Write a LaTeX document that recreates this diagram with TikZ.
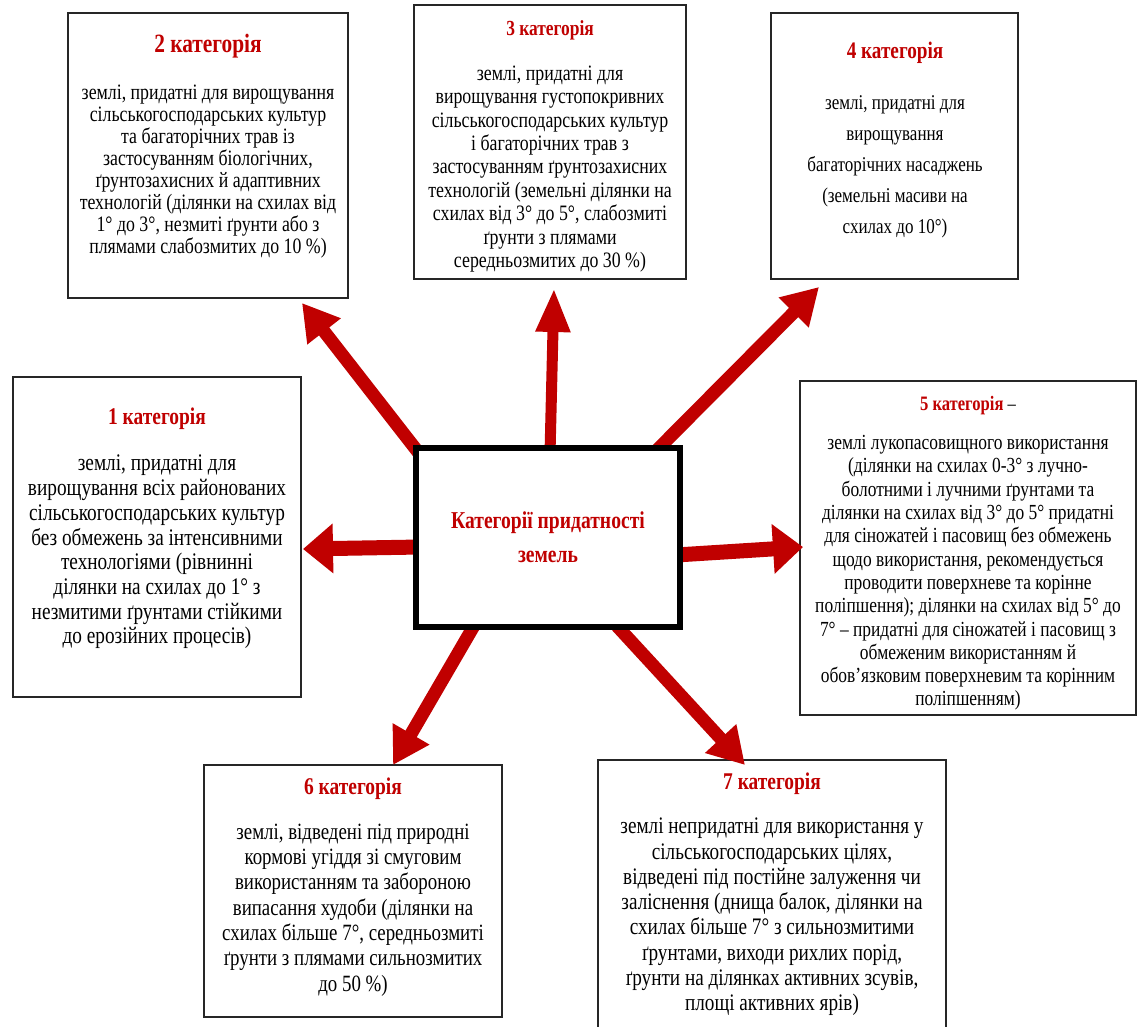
\documentclass[tikz,border=0pt]{standalone}
\usepackage{fontspec}
\setmainfont{Liberation Serif}[FakeStretch=0.81]
\usetikzlibrary{arrows.meta}
\definecolor{catred}{HTML}{C00000}
\begin{document}
\begin{tikzpicture}[x=1pt,y=-1pt,
  box/.style={draw=black!85,line width=1.6pt,fill=white,inner sep=0pt},
  ttl/.style={text=catred,font=\bfseries\fontsize{24}{28}\selectfont,inner sep=0pt},
  body/.style={align=center,inner sep=0pt},
  arr/.style={draw=catred,line width=13pt,-{Triangle[length=36pt,width=40pt]}},
  harr/.style={draw=catred,line width=15pt,-{Triangle[length=30pt,width=48pt]}},
  varr/.style={draw=catred,line width=11pt,-{Triangle[length=44pt,width=32pt]}}
]
\clip (0,0) rectangle (1137,1026);
\fill[white] (0,0) rectangle (1137,1026);

% boxes
\node[box,minimum width=280pt,minimum height=285pt] (b2) at (208,155.5) {};
\node[box,minimum width=272pt,minimum height=274pt] (b3) at (550,142) {};
\node[box,minimum width=247pt,minimum height=266pt] (b4) at (894.5,146) {};
\node[box,minimum width=288pt,minimum height=320pt] (b1) at (157,537) {};
\node[box,minimum width=336pt,minimum height=334pt] (b5) at (968,548) {};
\node[box,minimum width=298pt,minimum height=252pt] (b6) at (353,891) {};
\node[box,minimum width=348pt,minimum height=280pt] (b7) at (772,900) {};

% titles
\node[ttl,font=\bfseries\fontsize{26.4}{30}\selectfont] (h2) at (208,46) {2 категорія};
\node[ttl,font=\bfseries\fontsize{21.5}{26}\selectfont] (h3) at (550,30) {3 категорія};
\node[ttl,font=\bfseries\fontsize{23.7}{28}\selectfont] (h4) at (895,53) {4 категорія};
\node[ttl] (h1) at (157,419) {1 категорія};
\node[ttl,text=black,font=\bfseries\fontsize{20.5}{25}\selectfont] (h5) at (968,406) {\textcolor{catred}{5 категорія} \mdseries –};
\node[ttl] (h6) at (353,789) {6 категорія};
\node[ttl] (h7) at (772,784) {7 категорія};

% body texts
\node[body,font=\fontsize{22}{22}\selectfont] (t2) at (208,172) {землі, придатні для вирощування\\сільськогосподарських культур\\та багаторічних трав із\\застосуванням біологічних,\\ґрунтозахисних й адаптивних\\технологій (ділянки на схилах від\\1° до 3°, незмиті ґрунти або з\\плямами слабозмитих до 10 \%)};
\node[body,font=\fontsize{22}{23.4}\selectfont] (t3) at (550,169) {землі, придатні для\\вирощування густопокривних\\сільськогосподарських культур\\і багаторічних трав з\\застосуванням ґрунтозахисних\\технологій (земельні ділянки на\\схилах від 3° до 5°, слабозмиті\\ґрунти з плямами\\середньозмитих до 30 \%)};
\node[body,font=\fontsize{21}{31}\selectfont] (t4) at (895,167) {землі, придатні для\\вирощування\\багаторічних насаджень\\(земельні масиви на\\схилах до 10°)};
\node[body,font=\fontsize{23.8}{24.7}\selectfont] (t1) at (157,552) {землі, придатні для\\вирощування всіх районованих\\сільськогосподарських культур\\без обмежень за інтенсивними\\технологіями (рівнинні\\ділянки на схилах до 1° з\\незмитими ґрунтами стійкими\\до ерозійних процесів)};
\node[body,font=\fontsize{21.5}{23.3}\selectfont] (t5) at (968,573) {землі лукопасовищного використання\\(ділянки на схилах 0-3° з лучно-\\болотними і лучними ґрунтами та\\ділянки на схилах від 3° до 5° придатні\\для сіножатей і пасовищ без обмежень\\щодо використання, рекомендується\\проводити поверхневе та корінне\\поліпшення); ділянки на схилах від 5° до\\7° – придатні для сіножатей і пасовищ з\\обмеженим використанням й\\обов’язковим поверхневим та корінним\\поліпшенням)};
\node[body,font=\fontsize{23.3}{25.3}\selectfont] (t6) at (353,910) {землі, відведені під природні\\кормові угіддя зі смуговим\\використанням та забороною\\випасання худоби (ділянки на\\схилах більше 7°, середньозмиті\\ґрунти з плямами сильнозмитих\\до 50 \%)};
\node[body,font=\fontsize{23.7}{25.3}\selectfont] (t7) at (772,917) {землі непридатні для використання у\\сільськогосподарських цілях,\\відведені під постійне залуження чи\\заліснення (днища балок, ділянки на\\схилах більше 7° з сильнозмитими\\ґрунтами, виходи рихлих порід,\\ґрунти на ділянках активних зсувів,\\площі активних ярів)};

% arrow end points
\coordinate (s2) at (418,452); \coordinate (e2) at (302,303);
\coordinate (s3) at (550,454); \coordinate (e3) at (554,288);
\coordinate (s4) at (656,451); \coordinate (e4) at (819,287);
\coordinate (s1) at (420,547); \coordinate (e1) at (303,549);
\coordinate (s5) at (676,555); \coordinate (e5) at (803,547);
\coordinate (s6) at (475,624); \coordinate (e6) at (393,765);
\coordinate (s7) at (617,626); \coordinate (e7) at (745,765);

\draw[arr] (s2) -- (e2);
\draw[varr] (s3) -- (e3);
\draw[arr] (s4) -- (e4);
\draw[harr] (s1) -- (e1);
\draw[harr] (s5) -- (e5);
\draw[arr] (s6) -- (e6);
\draw[arr] (s7) -- (e7);

% centre box
\node[draw=black,line width=6pt,fill=white,minimum width=264pt,minimum height=179pt,
  align=center,text=catred,font=\bfseries\fontsize{24.2}{34}\selectfont] (c) at (548,537.5)
  {Категорії придатності\\земель};
\end{tikzpicture}
\end{document}
